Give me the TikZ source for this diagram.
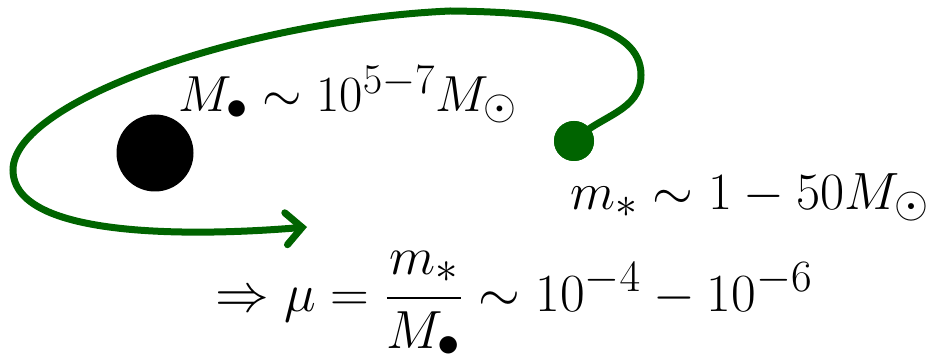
\documentclass[tikz,border=0pt]{standalone}
\usepackage{amsmath}
\usepackage{tikz}
\usetikzlibrary{arrows.meta,positioning,calc}
\definecolor{orbitgreen}{RGB}{0,100,0}
\tikzset{
    mass/.style={
        circle,
        fill,
        inner sep=0pt
    },
    label/.style={
        inner sep=0pt,
        font=\Huge
    },
    orbit/.style={
        draw=orbitgreen,
        line width=3.5pt,
        line cap=round,
        -{Straight Barb[length=8pt,width=16pt,line cap=round]}
    }
}

\begin{document}
\begin{tikzpicture}[x=0.5pt, y=-0.5pt]
    \useasboundingbox (0,0) rectangle (936,357);
    \node (bh) [mass, minimum size=38.5pt] at (155,153) {};
    \node (star) [mass, fill=orbitgreen, minimum size=20pt] at (574,141) {};
    \coordinate (tip) at (307,227);

    \node (bhlabel) [label, anchor=base west, scale=1.02] at (178,112) {$M_\bullet \sim 10^{5-7} M_\odot$};
    \node (starlabel) [label, anchor=base west, scale=1.054] at (570,210) {$m_* \sim 1 - 50 M_\odot$};
    \node (ratio) [label, scale=1.08] at (514,304) {$\Rightarrow \mu = \dfrac{m_*}{M_\bullet} \sim 10^{-4} - 10^{-6}$};

    \draw [orbit] (star.center) to[out=45,in=-90] (641,75)
        .. controls (641,25) and (560,12) .. (450,11)
        .. controls (250,20) and (13,100) .. (13,170)
        .. controls (13,240) and (200,236) .. (tip);
    \fill [orbitgreen] (star) circle (10pt);
\end{tikzpicture}
\end{document}
